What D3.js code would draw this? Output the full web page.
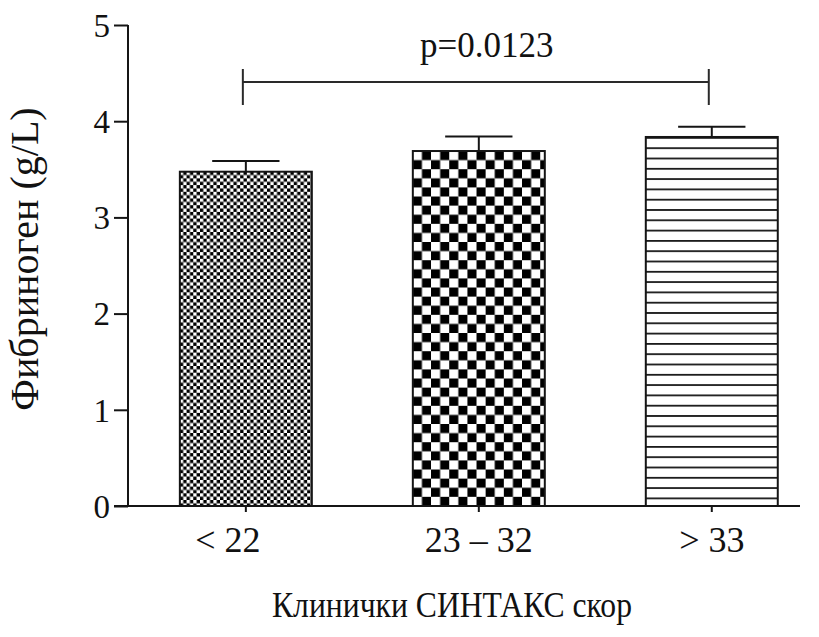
<!DOCTYPE html>
<html>
<head>
<meta charset="utf-8">
<script src="https://cdn.jsdelivr.net/npm/d3@7"></script>
<style>
  html, body { margin: 0; padding: 0; background: #fff; }
</style>
</head>
<body>
<svg id="chart" width="819" height="637"></svg>
<script>
// Fibrinogen by SYNTAX score group (mean with SEM)
const categories = ["< 22", "23 – 32", "> 33"];
const meanValues = [3.475, 3.69, 3.836];
const semValues = [0.11, 0.15, 0.107];
const yTicks = [0, 1, 2, 3, 4, 5];
const pLabel = "p=0.0123";
const bracketPair = ["< 22", "> 33"];
const yTitle = "Фибриноген (g/L)";
const xTitle = "Клинички СИНТАКС скор";

const serif = '"Liberation Serif"';
const svg = d3.select("#chart");
const ink = "#151515";

const y = d3.scaleLinear().domain([0, 5]).range([506, 25]);
const x = d3.scaleBand()
  .domain(categories)
  .range([128, 800])
  .paddingInner(0.4335)
  .paddingOuter(0.159)
  .align(0.70);

// Fill patterns: fine checker, coarse checker, horizontal rules
const defs = svg.append("defs");
const patIds = ["fineChecker", "coarseChecker", "hRules"];

function checker(id, cell, ox, oy) {
  const p = defs.append("pattern")
    .attr("id", id)
    .attr("patternUnits", "userSpaceOnUse")
    .attr("x", ox).attr("y", oy)
    .attr("width", cell * 2).attr("height", cell * 2);
  p.append("rect").attr("width", cell * 2).attr("height", cell * 2).attr("fill", "#fff");
  p.append("rect").attr("x", cell).attr("y", 0).attr("width", cell).attr("height", cell).attr("fill", "#000");
  p.append("rect").attr("x", 0).attr("y", cell).attr("width", cell).attr("height", cell).attr("fill", "#000");
}
checker(patIds[0], 3.35, x(categories[0]), y(meanValues[0]));
checker(patIds[1], 9.1, x(categories[1]), y(meanValues[1]));

const rule = defs.append("pattern")
  .attr("id", patIds[2])
  .attr("patternUnits", "userSpaceOnUse")
  .attr("x", 0).attr("y", y(meanValues[2]))
  .attr("width", 10).attr("height", 10.3);
rule.append("rect").attr("width", 10).attr("height", 10.3).attr("fill", "#fff");
rule.append("rect").attr("x", 0).attr("y", 0).attr("width", 10).attr("height", 1.8).attr("fill", "#1a1a1a");

// Bars
svg.append("g").selectAll("rect")
  .data(categories)
  .join("rect")
  .attr("x", d => x(d))
  .attr("y", (d, i) => y(meanValues[i]))
  .attr("width", x.bandwidth())
  .attr("height", (d, i) => y(0) - y(meanValues[i]))
  .attr("fill", (d, i) => `url(#${patIds[i]})`)
  .attr("stroke", ink)
  .attr("stroke-width", 2);

// Upper error whiskers
const capHalf = x.bandwidth() * 0.255;
const err = svg.append("g").attr("stroke", ink).attr("stroke-width", 2);
categories.forEach((c, i) => {
  const cx = x(c) + x.bandwidth() / 2;
  const top = y(meanValues[i] + semValues[i]);
  err.append("line").attr("x1", cx).attr("x2", cx).attr("y1", y(meanValues[i])).attr("y2", top);
  err.append("line").attr("x1", cx - capHalf).attr("x2", cx + capHalf).attr("y1", top).attr("y2", top);
});

// Y axis
const yAxis = d3.axisLeft(y).tickValues(yTicks).tickSize(14).tickPadding(4).tickFormat(d3.format("d"));
const gy = svg.append("g").attr("transform", "translate(128,0)").call(yAxis);
gy.select(".domain").attr("stroke", ink).attr("stroke-width", 2).attr("d", `M0,${y(5)}V${y(0)}`);
gy.selectAll(".tick line").attr("stroke", ink).attr("stroke-width", 2);
gy.selectAll(".tick text").attr("dy", "0.34em").attr("fill", "#111")
  .style("font-family", serif).style("font-size", "33px");

// X axis
const xAxis = d3.axisBottom(x).tickSize(6).tickPadding(14);
const gx = svg.append("g").attr("transform", `translate(0,${y(0)})`).call(xAxis);
gx.select(".domain").attr("d", `M114,0H800`).attr("stroke", ink).attr("stroke-width", 2);
gx.selectAll(".tick line").attr("stroke", ink).attr("stroke-width", 2);
gx.selectAll(".tick text").attr("fill", "#111")
  .style("font-family", serif).style("font-size", "36px")
  .attr("dx", (d, i) => i === 0 ? -18 : 0);

// Significance bracket
const bx0 = x(bracketPair[0]) + x.bandwidth() / 2 - 3;
const bx1 = x(bracketPair[1]) + x.bandwidth() / 2 - 3;
const by = 82;
const br = svg.append("g").attr("stroke", "#2a2a2a").attr("stroke-width", 2);
br.append("line").attr("x1", bx0).attr("x2", bx1).attr("y1", by).attr("y2", by);
br.append("line").attr("x1", bx0).attr("x2", bx0).attr("y1", by - 13).attr("y2", by + 23);
br.append("line").attr("x1", bx1).attr("x2", bx1).attr("y1", by - 13).attr("y2", by + 23);
svg.append("text").attr("x", (bx0 + bx1) / 2 + 11).attr("y", 57)
  .attr("text-anchor", "middle").attr("fill", "#111")
  .style("font-family", serif).style("font-size", "35px").text(pLabel);

// Axis titles
svg.append("text").attr("transform", "translate(38,259) rotate(-90)")
  .attr("text-anchor", "middle").attr("fill", "#111")
  .style("font-family", serif).style("font-size", "40px").text(yTitle);
svg.append("text").attr("x", 452).attr("y", 617)
  .attr("text-anchor", "middle").attr("fill", "#111")
  .attr("textLength", 360).attr("lengthAdjust", "spacingAndGlyphs")
  .style("font-family", serif).style("font-size", "36px").text(xTitle);
</script>
</body>
</html>
